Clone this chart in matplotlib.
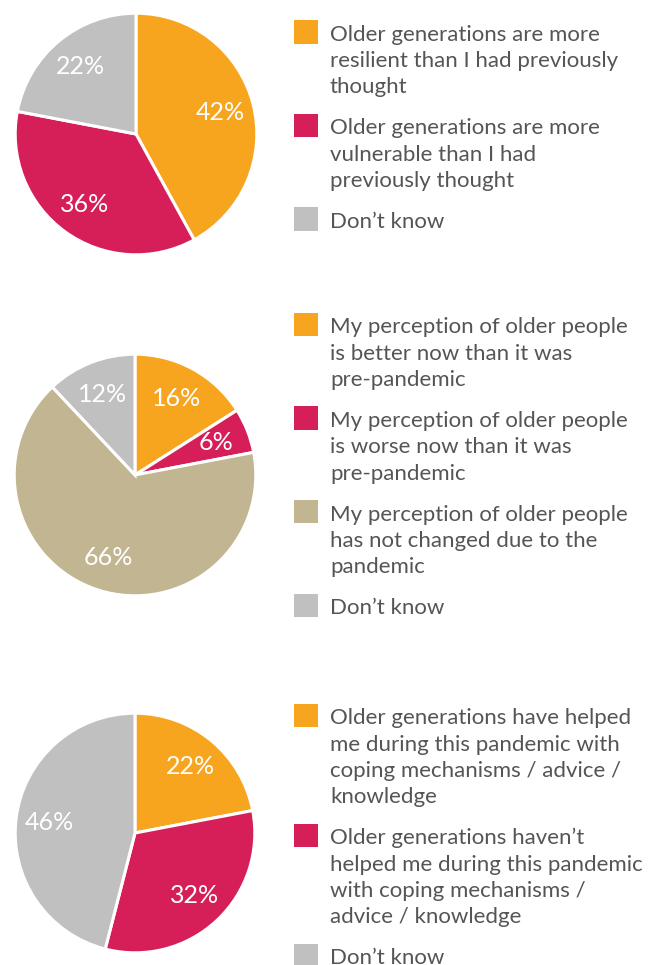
import matplotlib.pyplot as plt
from matplotlib.patches import Rectangle

plt.rcParams["font.family"] = ["Lato", "DejaVu Sans"]

W, H = 655, 965

ORANGE = "#F7A41F"
RED = "#D61F58"
GREY = "#C0C0C0"
TAN = "#C2B592"
TEXT = "#555555"

# chart 1
resilience_labels = [
    "Older generations are more\nresilient than I had previously\nthought",
    "Older generations are more\nvulnerable than I had\npreviously thought",
    "Don\u2019t know",
]
resilience_values = [42, 36, 22]
resilience_colors = [ORANGE, RED, GREY]

# chart 2
perception_labels = [
    "My perception of older people\nis better now than it was\npre-pandemic",
    "My perception of older people\nis worse now than it was\npre-pandemic",
    "My perception of older people\nhas not changed due to the\npandemic",
    "Don\u2019t know",
]
perception_values = [16, 6, 66, 12]
perception_colors = [ORANGE, RED, TAN, GREY]

# chart 3
helped_labels = [
    "Older generations have helped\nme during this pandemic with\ncoping mechanisms / advice /\nknowledge",
    "Older generations haven\u2019t\nhelped me during this pandemic\nwith coping mechanisms /\nadvice / knowledge",
    "Don\u2019t know",
]
helped_values = [22, 32, 46]
helped_colors = [ORANGE, RED, GREY]

LINE_STEP = 26.3
ITEM_GAP = 41


def draw_pie(fig, cx, cy, r, values, colors):
    ax = fig.add_axes([(cx - r) / W, 1 - (cy + r) / H, 2 * r / W, 2 * r / H])
    ax.pie(values, colors=colors, startangle=90, counterclock=False,
           labels=[f"{v}%" for v in values], labeldistance=0.72,
           wedgeprops=dict(edgecolor="white", linewidth=2.2),
           textprops=dict(color="white", fontsize=18, ha="center", va="center"))
    ax.set_xlim(-1.01, 1.01)
    ax.set_ylim(-1.01, 1.01)
    ax.set_aspect("equal")
    ax.axis("off")


def draw_legend(fig, y0, labels, colors):
    y = y0
    for label, color in zip(labels, colors):
        lines = label.split("\n")
        fig.patches.append(Rectangle((294 / W, 1 - (y + 10.2) / H), 24 / W, 23.5 / H,
                                     transform=fig.transFigure, facecolor=color,
                                     edgecolor="none"))
        for i, line in enumerate(lines):
            fig.text(330 / W, 1 - (y + i * LINE_STEP + 7.5) / H, line,
                     va="baseline", ha="left", fontsize=16, color=TEXT)
        y += (len(lines) - 1) * LINE_STEP + ITEM_GAP


fig = plt.figure(figsize=(W / 100, H / 100), dpi=100)

draw_pie(fig, 136, 134, 122, resilience_values, resilience_colors)
draw_legend(fig, 33.3, resilience_labels, resilience_colors)

draw_pie(fig, 135, 475, 122, perception_values, perception_colors)
draw_legend(fig, 326, perception_labels, perception_colors)

draw_pie(fig, 135, 833, 121, helped_values, helped_colors)
draw_legend(fig, 717, helped_labels, helped_colors)

fig.savefig("out.png", dpi=100)
plt.close(fig)
